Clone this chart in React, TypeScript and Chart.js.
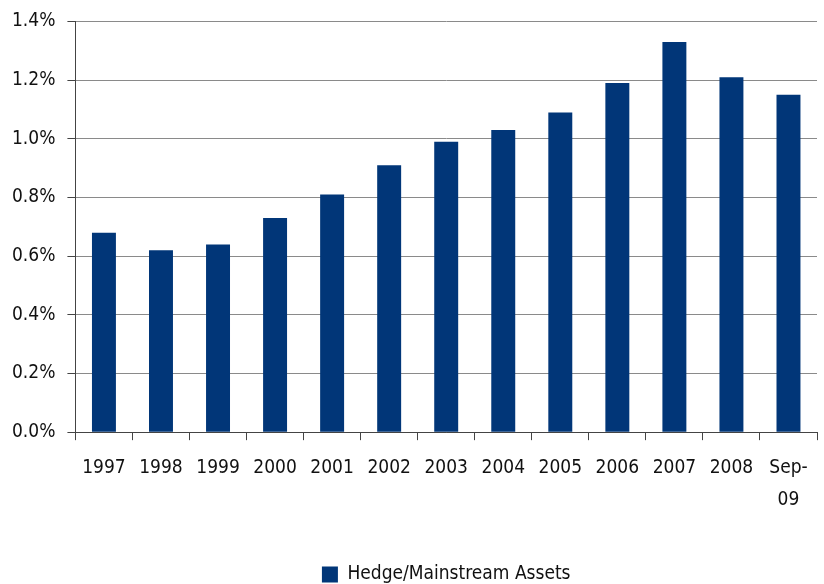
import React, { useEffect, useRef } from "react";
import { Chart, registerables } from "chart.js";

Chart.register(...registerables);

const categories: (string | string[])[] = [
  "1997", "1998", "1999", "2000", "2001", "2002", "2003",
  "2004", "2005", "2006", "2007", "2008", ["Sep-", "09"],
];
const hedgeShare = [0.68, 0.62, 0.64, 0.73, 0.81, 0.91, 0.99, 1.03, 1.09, 1.19, 1.33, 1.21, 1.15];
const seriesName = "Hedge/Mainstream Assets";
const yMin = 0;
const yMax = 1.4;
const yStep = 0.2;

const FONT = '"Liberation Sans Narrow", "Arial Narrow", "DejaVu Sans Condensed", sans-serif';
const BAR = "#013678";
const TEXT = "#111";

export default function App() {
  const ref = useRef<HTMLCanvasElement | null>(null);
  useEffect(() => {
    if (!ref.current) return;
    const chart = new Chart(ref.current, {
      type: "bar",
      data: {
        labels: categories,
        datasets: [
          {
            label: seriesName,
            data: hedgeShare,
            backgroundColor: BAR,
            borderWidth: 0,
            barPercentage: 0.42,
            categoryPercentage: 1,
          },
        ],
      },
      options: {
        animation: false,
        responsive: false,
        maintainAspectRatio: false,
        layout: { padding: { top: 0, right: 7, left: 0, bottom: -10 } },
        plugins: {
          tooltip: { enabled: false },
          legend: {
            position: "bottom",
            fullSize: false,
            labels: {
              color: TEXT,
              font: { family: FONT, size: 19 },
              boxWidth: 16,
              boxHeight: 16,
              padding: 4,
            },
          },
        },
        scales: {
          x: {
            offset: true,
            grid: {
              offset: true,
              drawOnChartArea: false,
              drawTicks: true,
              tickLength: 8,
              color: "#444",
            },
            border: { display: true, color: "#444", width: 1 },
            title: {
              display: true,
              text: " ",
              font: { size: 10, lineHeight: 1 },
              padding: { top: 23, bottom: 0 },
            },
            ticks: {
              color: TEXT,
              font: { family: FONT, size: 19, lineHeight: 1.68 },
              padding: 12,
              maxRotation: 0,
              autoSkip: false,
            },
          },
          y: {
            min: yMin,
            max: yMax,
            grid: {
              color: (ctx: any) => (ctx.tick && ctx.tick.value === 0 ? "#444" : "#8a8a8a"),
              drawTicks: true,
              tickLength: 8,
              tickColor: "#444",
            },
            border: { display: true, color: "#444", width: 1 },
            ticks: {
              stepSize: yStep,
              color: TEXT,
              padding: 12,
              font: { family: FONT, size: 19, lineHeight: 1 },
              callback: (v: any) => Number(v).toFixed(1) + "%",
            },
          },
        },
      },
    });
    return () => chart.destroy();
  }, []);
  return (
    <div style={{ position: "absolute", left: 0, top: 0, width: 824, height: 584, background: "#fff" }}>
      <canvas ref={ref} width={824} height={584} style={{ width: 824, height: 584 }} />
    </div>
  );
}
